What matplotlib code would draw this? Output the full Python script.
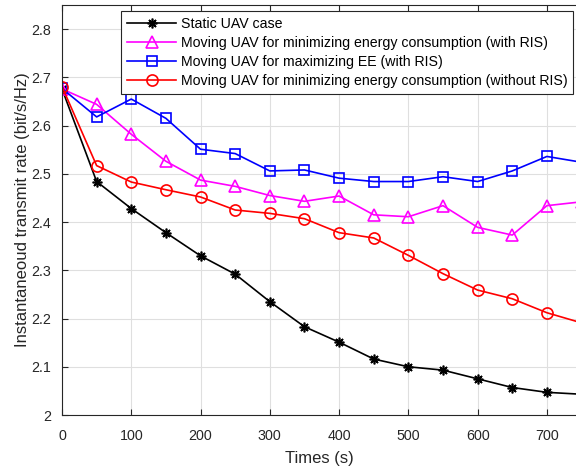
import numpy as np
import matplotlib
matplotlib.use("Agg")
import matplotlib.pyplot as plt
from matplotlib.ticker import FuncFormatter

plt.rcParams["font.family"] = ["Liberation Sans", "DejaVu Sans"]

# ── data ─────────────────────────────────────────────────────────────────────
times = [0, 50, 100, 150, 200, 250, 300, 350, 400, 450, 500, 550, 600, 650, 700, 750]

static_uav = [2.676, 2.484, 2.428, 2.378, 2.330, 2.292, 2.235, 2.183, 2.151,
              2.116, 2.100, 2.093, 2.075, 2.057, 2.047, 2.043]
energy_ris = [2.676, 2.644, 2.582, 2.526, 2.487, 2.474, 2.455, 2.443, 2.454,
              2.415, 2.411, 2.434, 2.389, 2.373, 2.434, 2.442]
ee_ris = [2.677, 2.618, 2.655, 2.615, 2.551, 2.542, 2.506, 2.508, 2.491,
          2.484, 2.484, 2.494, 2.484, 2.506, 2.536, 2.524]
energy_no_ris = [2.681, 2.517, 2.483, 2.467, 2.452, 2.425, 2.418, 2.407, 2.378,
                 2.367, 2.331, 2.293, 2.259, 2.241, 2.212, 2.191]

labels = [
    "Static UAV case",
    "Moving UAV for minimizing energy consumption (with RIS)",
    "Moving UAV for maximizing EE (with RIS)",
    "Moving UAV for minimizing energy consumption (without RIS)",
]

W, H = 576, 469
fig = plt.figure(figsize=(W / 100, H / 100), dpi=100)
ax = fig.add_axes([62 / W, 54 / H, (W - 62) / W, 410 / H])

asterisk = (8, 2, 0)
ax.plot(times, static_uav, color="black", lw=1.2, marker=asterisk, ms=7,
        mew=1.2, label=labels[0])
ax.plot(times, energy_ris, color="#ff00ff", lw=1.2, marker="^", ms=8,
        mfc="none", mew=1.2, label=labels[1])
ax.plot(times, ee_ris, color="#0000ff", lw=1.2, marker="s", ms=7,
        mfc="none", mew=1.2, label=labels[2])
ax.plot(times, energy_no_ris, color="#ff0000", lw=1.2, marker="o", ms=8,
        mfc="none", mew=1.2, label=labels[3])

ax.set_xlim(0, 742)
ax.set_ylim(2, 2.85)
ax.set_xticks(np.arange(0, 701, 100))
ax.set_yticks(np.arange(2, 2.81, 0.1))
ax.yaxis.set_major_formatter(FuncFormatter(lambda v, p: f"{v:g}" if abs(v - 2) > 1e-9 else "2"))

ax.grid(True, color="#dfdfdf", lw=0.8)
ax.set_axisbelow(True)
ax.tick_params(direction="in", top=True, right=False, labelsize=10.3,
               colors="#262626", length=4)
ax.tick_params(axis="x", pad=10)
ax.tick_params(axis="y", pad=8)
for s in ("left", "bottom", "top"):
    ax.spines[s].set_color("#262626")
    ax.spines[s].set_linewidth(0.8)
ax.spines["right"].set_visible(False)

ax.set_xlabel("Times (s)", fontsize=12, color="#262626", labelpad=5.5)
ax.set_ylabel("Instantaneoud transmit rate (bit/s/Hz)", fontsize=12,
              color="#262626", labelpad=0.5)

leg = ax.legend(loc="upper right", bbox_to_anchor=(573 / W, 1 - 11 / H),
                bbox_transform=fig.transFigure, fontsize=10.2, fancybox=False,
                framealpha=1, edgecolor="#262626", handlelength=3.5,
                borderaxespad=0, labelspacing=0.37, borderpad=0.4,
                handletextpad=0.3)
leg.get_frame().set_linewidth(0.8)

fig.savefig("out.png", dpi=100)
